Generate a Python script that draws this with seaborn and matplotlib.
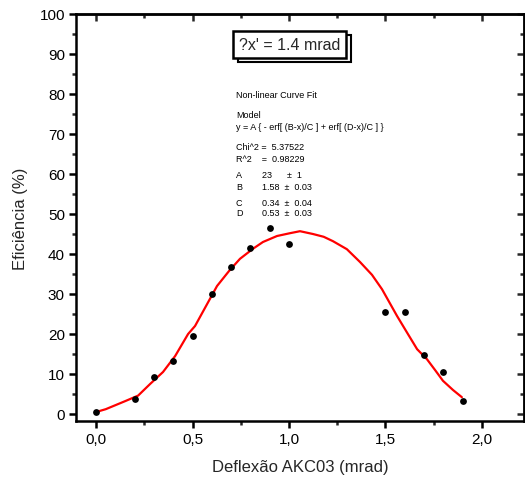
import matplotlib
matplotlib.use("Agg")
import matplotlib.pyplot as plt
import seaborn as sns
import pandas as pd
from matplotlib.ticker import MultipleLocator, FuncFormatter
from matplotlib.patches import Rectangle

sns.set_theme(style="ticks")
plt.rcParams['font.family'] = ['Liberation Sans', 'DejaVu Sans']

# measured points
x_data = [0.0, 0.2, 0.3, 0.4, 0.5, 0.6, 0.7, 0.8, 0.9, 1.0, 1.5, 1.6, 1.7, 1.8, 1.9]
y_data = [0.5, 3.8, 9.3, 13.3, 19.6, 30.0, 36.7, 41.5, 46.5, 42.5, 25.5, 25.5, 14.8, 10.6, 3.2]

# fitted curve
x_fit = [0.0, 0.05, 0.1, 0.15, 0.218, 0.28, 0.347, 0.41, 0.477, 0.513, 0.57, 0.627,
         0.69, 0.746, 0.813, 0.865, 0.938, 1.005, 1.057, 1.124, 1.18, 1.228, 1.3,
         1.368, 1.43, 1.482, 1.56, 1.61, 1.664, 1.715, 1.76, 1.798, 1.85, 1.896]
y_fit = [0.5, 1.2, 2.2, 3.2, 4.6, 7.5, 10.5, 14.5, 20.0, 22.0, 27.0, 32.0,
         35.8, 38.8, 41.3, 43.0, 44.5, 45.2, 45.7, 45.0, 44.3, 43.2, 41.2,
         38.0, 34.8, 31.2, 24.5, 20.5, 16.2, 13.7, 10.8, 8.3, 6.0, 4.2]

df_pts = pd.DataFrame({"x": x_data, "y": y_data})
df_fit = pd.DataFrame({"x": x_fit, "y": y_fit})

W, H = 525, 485
fig = plt.figure(figsize=(W/100, H/100), dpi=100)
ax = fig.add_axes([76/W, 1-422/H, (524-76)/W, (422-15)/H])

sns.lineplot(data=df_fit, x="x", y="y", ax=ax, color="#ff0000", linewidth=1.6, sort=False)
sns.scatterplot(data=df_pts, x="x", y="y", ax=ax, color="black", s=24, edgecolor="black", linewidth=0, zorder=5)

ax.set_xlim(-0.104, 2.218)
ax.set_ylim(-1.75, 100)
ax.xaxis.set_major_locator(MultipleLocator(0.5))
ax.xaxis.set_minor_locator(MultipleLocator(0.25))
ax.yaxis.set_major_locator(MultipleLocator(10))
ax.yaxis.set_minor_locator(MultipleLocator(5))
ax.xaxis.set_major_formatter(FuncFormatter(lambda v, p: f"{v:.1f}".replace(".", ",")))
ax.yaxis.set_major_formatter(FuncFormatter(lambda v, p: f"{v:.0f}"))

for s in ax.spines.values():
    s.set_linewidth(1.8)
    s.set_color("black")
    s.set_visible(True)

ax.tick_params(which="major", direction="out", length=5, width=1.8, labelsize=11, colors="black", pad=3)
ax.tick_params(which="minor", direction="out", length=3, width=1.8)

sec_x = ax.secondary_xaxis('top')
sec_x.xaxis.set_major_locator(MultipleLocator(0.5))
sec_x.xaxis.set_minor_locator(MultipleLocator(0.25))
sec_x.tick_params(which="major", direction="in", length=5, width=1.8, labeltop=False)
sec_x.tick_params(which="minor", direction="in", length=3, width=1.8)
sec_x.spines['top'].set_linewidth(1.8)

sec_y = ax.secondary_yaxis('right')
sec_y.yaxis.set_major_locator(MultipleLocator(10))
sec_y.yaxis.set_minor_locator(MultipleLocator(5))
sec_y.tick_params(which="major", direction="in", length=5, width=1.8, labelright=False)
sec_y.tick_params(which="minor", direction="in", length=3, width=1.8)
sec_y.spines['right'].set_linewidth(1.8)

ax.set_xlabel("Deflexão AKC03 (mrad)", fontsize=12, labelpad=9.5)
ax.set_ylabel("Eficiência (%)", fontsize=12, labelpad=8)

# boxed label with shadow
bx0, bx1, by0, by1 = 233, 346, 32, 59
shadow = Rectangle(((bx0+5)/W, 1-(by1+4)/H), (bx1-bx0)/W, (by1-by0)/H, transform=fig.transFigure,
                   facecolor="none", edgecolor="black", linewidth=1.5, zorder=1)
box = Rectangle((bx0/W, 1-by1/H), (bx1-bx0)/W, (by1-by0)/H, transform=fig.transFigure,
                facecolor="white", edgecolor="black", linewidth=1.8, zorder=2)
fig.patches.extend([shadow, box])
fig.text((bx0+bx1)/2/W, 1-(by0+by1)/2/H, "?x' = 1.4 mrad", fontsize=11.5, ha="center", va="center",
         zorder=3)

fs = 6.5
lx = 236/W
col2 = 262/W
def ft(x, ypx, s):
    fig.text(x, 1-ypx/H, s, fontsize=fs, ha="left", va="center", color="black")
ft(lx, 95, "Non-linear Curve Fit")
ft(lx, 115, "Model")
ft(lx, 128, "y = A { - erf[ (B-x)/C ] + erf[ (D-x)/C ] }")
ft(lx, 148, "Chi^2 =  5.37522")
ft(lx, 160, "R^2    =  0.98229")
params = [("A", "23      ±  1", 176), ("B", "1.58  ±  0.03", 188),
          ("C", "0.34  ±  0.04", 203), ("D", "0.53  ±  0.03", 214)]
for n, v, yp in params:
    ft(lx, yp, n)
    ft(col2, yp, v)

fig.savefig("out.png", dpi=100)
